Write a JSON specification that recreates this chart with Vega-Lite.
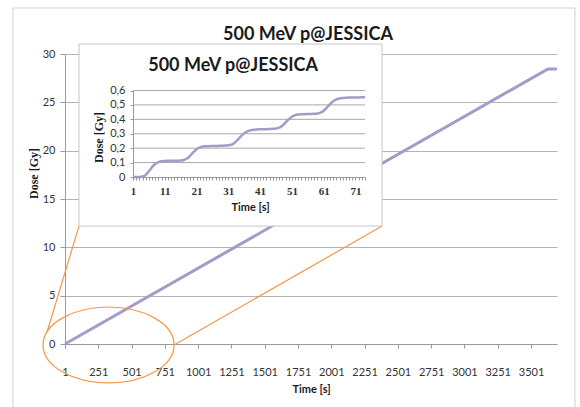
{
  "$schema": "https://vega.github.io/schema/vega-lite/v6.json",
  "width": 492,
  "height": 290,
  "autosize": {"type": "none"},
  "padding": {"left": 65, "top": 54, "right": 23, "bottom": 63},
  "background": "white",
  "config": {"view": {"stroke": null}},
  "title": {
    "text": "500 MeV p@JESSICA",
    "font": "Lato",
    "fontSize": 18,
    "fontWeight": "bold",
    "color": "#1a1a1a",
    "anchor": "middle",
    "frame": "group",
    "baseline": "alphabetic",
    "offset": -50.5,
    "dx": -3
  },
  "datasets": {
    "main": [
      {"t": 1, "dose": 0},
      {"t": 3628, "dose": 28.45},
      {"t": 3696, "dose": 28.45}
    ],
    "frame": [{"x0": -390, "x1": 3831, "y0": -7, "y1": 34.76}],
    "zoomlines": [
      {"xa": -134, "ya": 1.24, "xb": 106, "yb": 12.2},
      {"xa": 820, "ya": -0.1, "xb": 2382, "yb": 12.2}
    ],
    "ellipse": [{"t": 328, "dose": -0.1}],
    "insetbox": [{"x0": 106, "x1": 2382, "y0": 12.2, "y1": 31.03}],
    "insettitle": [{"t": 32.5, "v": 0.77, "label": "500 MeV p@JESSICA"}],
    "insetgrid": [{"g": 0.1}, {"g": 0.2}, {"g": 0.3}, {"g": 0.4}, {"g": 0.5}, {"g": 0.6}],
    "inset": [
      {"t": 1, "dose": 0}, {"t": 2, "dose": 0}, {"t": 3, "dose": 0}, {"t": 4, "dose": 0.003},
      {"t": 5, "dose": 0.015}, {"t": 6, "dose": 0.04}, {"t": 7, "dose": 0.068}, {"t": 8, "dose": 0.09},
      {"t": 9, "dose": 0.103}, {"t": 10, "dose": 0.109}, {"t": 11, "dose": 0.111}, {"t": 12, "dose": 0.112},
      {"t": 13, "dose": 0.112}, {"t": 14, "dose": 0.112}, {"t": 15, "dose": 0.113}, {"t": 16, "dose": 0.114},
      {"t": 17, "dose": 0.118}, {"t": 18, "dose": 0.128}, {"t": 19, "dose": 0.148}, {"t": 20, "dose": 0.172},
      {"t": 21, "dose": 0.193}, {"t": 22, "dose": 0.205}, {"t": 23, "dose": 0.211}, {"t": 24, "dose": 0.213},
      {"t": 25, "dose": 0.214}, {"t": 26, "dose": 0.215}, {"t": 27, "dose": 0.215}, {"t": 28, "dose": 0.216},
      {"t": 29, "dose": 0.217}, {"t": 30, "dose": 0.218}, {"t": 31, "dose": 0.22}, {"t": 32, "dose": 0.225},
      {"t": 33, "dose": 0.238}, {"t": 34, "dose": 0.26}, {"t": 35, "dose": 0.283}, {"t": 36, "dose": 0.303},
      {"t": 37, "dose": 0.317}, {"t": 38, "dose": 0.324}, {"t": 39, "dose": 0.328}, {"t": 40, "dose": 0.33},
      {"t": 41, "dose": 0.331}, {"t": 42, "dose": 0.332}, {"t": 43, "dose": 0.332}, {"t": 44, "dose": 0.333},
      {"t": 45, "dose": 0.334}, {"t": 46, "dose": 0.336}, {"t": 47, "dose": 0.342}, {"t": 48, "dose": 0.356},
      {"t": 49, "dose": 0.378}, {"t": 50, "dose": 0.4}, {"t": 51, "dose": 0.418}, {"t": 52, "dose": 0.428},
      {"t": 53, "dose": 0.433}, {"t": 54, "dose": 0.435}, {"t": 55, "dose": 0.436}, {"t": 56, "dose": 0.437},
      {"t": 57, "dose": 0.437}, {"t": 58, "dose": 0.438}, {"t": 59, "dose": 0.44}, {"t": 60, "dose": 0.446},
      {"t": 61, "dose": 0.46}, {"t": 62, "dose": 0.482}, {"t": 63, "dose": 0.505}, {"t": 64, "dose": 0.525},
      {"t": 65, "dose": 0.538}, {"t": 66, "dose": 0.545}, {"t": 67, "dose": 0.548}, {"t": 68, "dose": 0.55},
      {"t": 69, "dose": 0.551}, {"t": 70, "dose": 0.551}, {"t": 71, "dose": 0.552}, {"t": 72, "dose": 0.552},
      {"t": 73, "dose": 0.553}, {"t": 74, "dose": 0.553}
    ]
  },
  "layer": [
    {
      "data": {"name": "frame"},
      "mark": {"type": "rect", "fillOpacity": 0, "stroke": "#d2d2d2", "strokeWidth": 1},
      "encoding": {
        "x": {"field": "x0", "type": "quantitative", "scale": {"domain": [1, 3696], "nice": false, "zero": false}, "axis": null},
        "x2": {"field": "x1"},
        "y": {"field": "y0", "type": "quantitative", "scale": {"domain": [0, 30], "nice": false, "zero": false}, "axis": null},
        "y2": {"field": "y1"}
      }
    },
    {
      "data": {"name": "main"},
      "mark": {"type": "line", "color": "#a799c8", "strokeWidth": 3},
      "encoding": {
        "x": {
          "field": "t", "type": "quantitative",
          "scale": {"domain": [1, 3696], "nice": false, "zero": false},
          "axis": {
            "orient": "bottom",
            "values": [1, 251, 501, 751, 1001, 1251, 1501, 1751, 2001, 2251, 2501, 2751, 3001, 3251, 3501],
            "format": "d", "grid": false, "labelFlush": false, "labelOverlap": false,
            "domainColor": "#9a9a9a", "tickColor": "#9a9a9a", "tickSize": 4, "labelPadding": 18,
            "labelFont": "Lato", "labelFontSize": 11, "labelColor": "#333333",
            "title": "Time [s]", "titleFont": "Lato", "titleFontSize": 11, "titleFontWeight": "bold",
            "titleColor": "#1a1a1a", "titlePadding": 6
          }
        },
        "y": {
          "field": "dose", "type": "quantitative",
          "scale": {"domain": [0, 30], "nice": false, "zero": false},
          "axis": {
            "orient": "left",
            "values": [0, 5, 10, 15, 20, 25, 30],
            "grid": true, "gridColor": "#b4b4b4", "gridWidth": 1,
            "domainColor": "#9a9a9a", "tickColor": "#9a9a9a", "tickSize": 5, "labelPadding": 5,
            "labelFont": "Lato", "labelFontSize": 11, "labelColor": "#333333",
            "title": "Dose [Gy]", "titleFont": "Liberation Serif", "titleFontSize": 12, "titleFontWeight": "bold",
            "titleColor": "#1a1a1a", "titleX": -32, "titleY": 119, "titleAlign": "center", "titleBaseline": "middle"
          }
        }
      }
    },
    {
      "data": {"name": "zoomlines"},
      "mark": {"type": "rule", "color": "#f79646", "strokeWidth": 1.2},
      "encoding": {
        "x": {"field": "xa", "type": "quantitative", "scale": {"domain": [1, 3696], "nice": false, "zero": false}, "axis": null},
        "y": {"field": "ya", "type": "quantitative", "scale": {"domain": [0, 30], "nice": false, "zero": false}, "axis": null},
        "x2": {"field": "xb"},
        "y2": {"field": "yb"}
      }
    },
    {
      "data": {"name": "ellipse"},
      "mark": {
        "type": "point",
        "shape": "M -1 0 C -1 -0.32 -0.5523 -0.58 0 -0.58 C 0.5523 -0.58 1 -0.32 1 0 C 1 0.32 0.5523 0.58 0 0.58 C -0.5523 0.58 -1 0.32 -1 0 Z",
        "size": 17161, "filled": false, "color": "#f79646", "strokeWidth": 1.2, "opacity": 1
      },
      "encoding": {
        "x": {"field": "t", "type": "quantitative", "scale": {"domain": [1, 3696], "nice": false, "zero": false}, "axis": null},
        "y": {"field": "dose", "type": "quantitative", "scale": {"domain": [0, 30], "nice": false, "zero": false}, "axis": null}
      }
    },
    {
      "data": {"name": "insetbox"},
      "mark": {"type": "rect", "fill": "white", "stroke": "#c6c6c6", "strokeWidth": 1},
      "encoding": {
        "x": {"field": "x0", "type": "quantitative", "scale": {"domain": [1, 3696], "nice": false, "zero": false}, "axis": null},
        "x2": {"field": "x1"},
        "y": {"field": "y0", "type": "quantitative", "scale": {"domain": [0, 30], "nice": false, "zero": false}, "axis": null},
        "y2": {"field": "y1"}
      }
    },
    {
      "data": {"name": "insettitle"},
      "mark": {"type": "text", "font": "Lato", "fontSize": 18, "fontWeight": "bold", "color": "#1a1a1a", "align": "center", "baseline": "middle"},
      "encoding": {
        "x": {"field": "t", "type": "quantitative", "scale": {"domain": [1, 74], "range": [68, 300], "nice": false, "zero": false}, "axis": null},
        "y": {"field": "v", "type": "quantitative", "scale": {"domain": [0, 0.6], "range": [123, 36.5], "nice": false, "zero": false}, "axis": null},
        "text": {"field": "label"}
      }
    },
    {
      "data": {"name": "insetgrid"},
      "mark": {"type": "rule", "color": "#a8a8a8", "strokeWidth": 1},
      "encoding": {
        "y": {"field": "g", "type": "quantitative", "scale": {"domain": [0, 0.6], "range": [123, 36.5], "nice": false, "zero": false}, "axis": null},
        "x": {"datum": 1, "type": "quantitative", "scale": {"domain": [1, 74], "range": [68, 300], "nice": false, "zero": false}, "axis": null},
        "x2": {"datum": 74}
      }
    },
    {
      "data": {"name": "inset"},
      "mark": {"type": "line", "color": "#a799c8", "strokeWidth": 2.5, "interpolate": "monotone"},
      "encoding": {
        "x": {
          "field": "t", "type": "quantitative",
          "scale": {"domain": [1, 74], "range": [68, 300], "nice": false, "zero": false},
          "axis": {
            "orient": "bottom",
            "values": [1,2,3,4,5,6,7,8,9,10,11,12,13,14,15,16,17,18,19,20,21,22,23,24,25,26,27,28,29,30,31,32,33,34,35,36,37,38,39,40,41,42,43,44,45,46,47,48,49,50,51,52,53,54,55,56,57,58,59,60,61,62,63,64,65,66,67,68,69,70,71,72,73,74],
            "format": "d", "labelExpr": "(datum.value - 1) % 10 == 0 ? datum.label : ''",
            "offset": -167, "zindex": 1, "grid": false, "labelFlush": false, "labelOverlap": false,
            "domainColor": "#9a9a9a", "tickColor": "#9a9a9a", "tickSize": 3, "labelPadding": 5,
            "labelFont": "Liberation Serif", "labelFontSize": 11, "labelFontWeight": "bold", "labelColor": "#333333",
            "title": "Time [s]", "titleFont": "Lato", "titleFontSize": 11, "titleFontWeight": "bold",
            "titleColor": "#1a1a1a", "titleX": 185, "titleY": 30, "titleAlign": "center", "titleBaseline": "middle"
          }
        },
        "y": {
          "field": "dose", "type": "quantitative",
          "scale": {"domain": [0, 0.6], "range": [123, 36.5], "nice": false, "zero": false},
          "axis": {
            "orient": "left",
            "values": [0, 0.1, 0.2, 0.3, 0.4, 0.5, 0.6],
            "labelExpr": "datum.value == 0 ? '0' : replace(format(datum.value, '.1f'), '.', ',')",
            "offset": -68, "zindex": 1, "grid": false,
            "domainColor": "#9a9a9a", "tickColor": "#9a9a9a", "tickSize": 3, "labelPadding": 5,
            "labelFont": "Lato", "labelFontSize": 11, "labelColor": "#333333",
            "title": "Dose [Gy]", "titleFont": "Liberation Serif", "titleFontSize": 12, "titleFontWeight": "bold",
            "titleColor": "#1a1a1a", "titleX": -35, "titleY": 83, "titleAlign": "center", "titleBaseline": "middle"
          }
        }
      }
    }
  ],
  "resolve": {"scale": {"x": "independent", "y": "independent"}, "axis": {"x": "independent", "y": "independent"}}
}
